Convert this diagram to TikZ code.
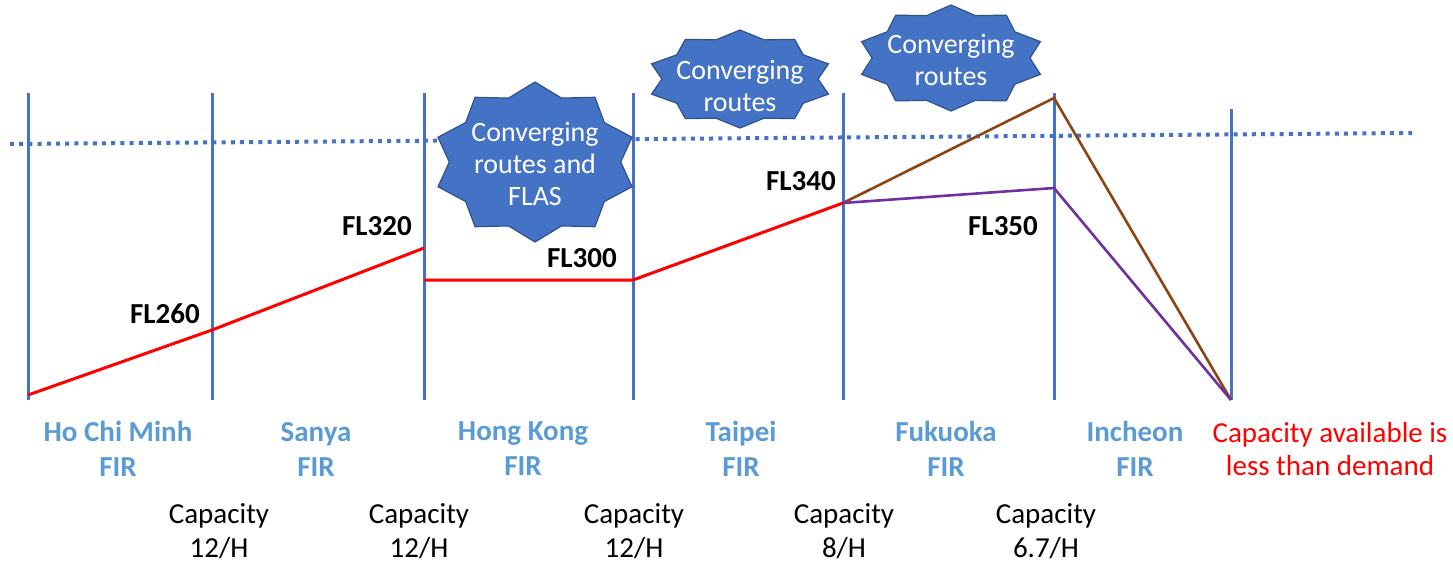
\documentclass[tikz,border=0pt]{standalone}
\usepackage{fontspec}
\setmainfont{Carlito}
\usetikzlibrary{calc}
\definecolor{lineblue}{HTML}{4472C4}
\definecolor{burstedge}{HTML}{2F528F}
\definecolor{firblue}{HTML}{5B9BD5}
\definecolor{flred}{HTML}{FF0000}
\definecolor{flbrown}{HTML}{8B4513}
\definecolor{flpurple}{HTML}{7030A0}
\begin{document}
\begin{tikzpicture}[x=0.5pt,y=-0.5pt,
  firline/.style={draw=lineblue,line width=1.5pt},
  capline/.style={draw=lineblue,line width=2pt,dash pattern=on 2pt off 2.6pt},
  redroute/.style={draw=flred,line width=1.5pt},
  brownroute/.style={draw=flbrown,line width=1.3pt},
  purpleroute/.style={draw=flpurple,line width=1.3pt},
  burst/.style={fill=lineblue,draw=burstedge,line width=0.6pt},
  bursttext/.style={text=white,align=center,font=\fontsize{14}{16}\selectfont,inner sep=0pt},
  fllabel/.style={font=\fontsize{14.5}{17}\selectfont\bfseries,inner sep=0pt},
  firlabel/.style={text=firblue,align=center,font=\fontsize{14.5}{17.5}\selectfont\bfseries,inner sep=0pt},
  caplabel/.style={align=center,font=\fontsize{14.5}{17}\selectfont,inner sep=0pt},
  redlabel/.style={text=flred,align=center,font=\fontsize{14.5}{16.5}\selectfont,inner sep=0pt}]
\useasboundingbox (0,0) rectangle (1453,564);

% capacity line
\coordinate (cl) at (10,144);
\coordinate (cr) at (1412,133);
\draw[capline] (cl) -- (cr);

% FIR boundaries
\foreach \n/\x/\t in {1/28/93, 2/212/93, 3/424/93, 4/633/93, 5/843/93, 6/1054/93, 7/1231/109}{
  \coordinate (v\n t) at (\x,\t);
  \coordinate (v\n b) at (\x,400);
  \draw[firline] (v\n t) -- (v\n b);
}

% route points
\coordinate (p0) at (28,395);
\coordinate (p1) at (212,330);
\coordinate (p2) at (424,248);
\coordinate (p3) at (424,280);
\coordinate (p4) at (633,280);
\coordinate (p5) at (843,203);
\coordinate (p6) at (1054,98);
\coordinate (p7) at (1054,188);
\coordinate (p8) at (1231,400);

\draw[redroute] (p0) -- (p1) -- (p2);
\draw[redroute] (p3) -- (p4) -- (p5);
\draw[brownroute] (p5) -- (p6) -- (p8);
\draw[purpleroute] (p5) -- (p7) -- (p8);

% starbursts (10-point stars)
\foreach \cx/\cy/\rx/\ry in {535/162/102/80, 740/79/93/49, 951/58/94/53}{
  \fill[burst] ($(\cx,\cy)+(90:{\rx} and {\ry})$)
    foreach \i [evaluate=\i as \f using {1-0.16*mod(\i,2)}] in {1,...,19}{
      -- ($(\cx,\cy)+({90+18*\i}:{\rx*\f} and {\ry*\f})$) } -- cycle;
}
\node[bursttext] (b1) at (535,164) {Converging\\routes and\\FLAS};
\node[bursttext] (b2) at (740,86) {Converging\\routes};
\node[bursttext] (b3) at (951,60) {Converging\\routes};

% flight level labels
\node[fllabel] (fl260) at (165,314) {FL260};
\node[fllabel] (fl320) at (377,226) {FL320};
\node[fllabel] (fl300) at (582,258) {FL300};
\node[fllabel] (fl340) at (801,181) {FL340};
\node[fllabel] (fl350) at (1003,226) {FL350};

% FIR names
\node[firlabel] (f1) at (118,449) {Ho Chi Minh\\FIR};
\node[firlabel] (f2) at (316,449) {Sanya\\FIR};
\node[firlabel] (f3) at (523,449) {Hong Kong\\FIR};
\node[firlabel] (f4) at (741,449) {Taipei\\FIR};
\node[firlabel] (f5) at (946,449) {Fukuoka\\FIR};
\node[firlabel] (f6) at (1135,449) {Incheon\\FIR};
\node[redlabel] (dem) at (1330,449) {Capacity available is\\less than demand};

% capacities
\node[caplabel] (c1) at (219,531) {Capacity\\12/H};
\node[caplabel] (c2) at (419,531) {Capacity\\12/H};
\node[caplabel] (c3) at (634,531) {Capacity\\12/H};
\node[caplabel] (c4) at (844,531) {Capacity\\8/H};
\node[caplabel] (c5) at (1046,531) {Capacity\\6.7/H};
\end{tikzpicture}
\end{document}
